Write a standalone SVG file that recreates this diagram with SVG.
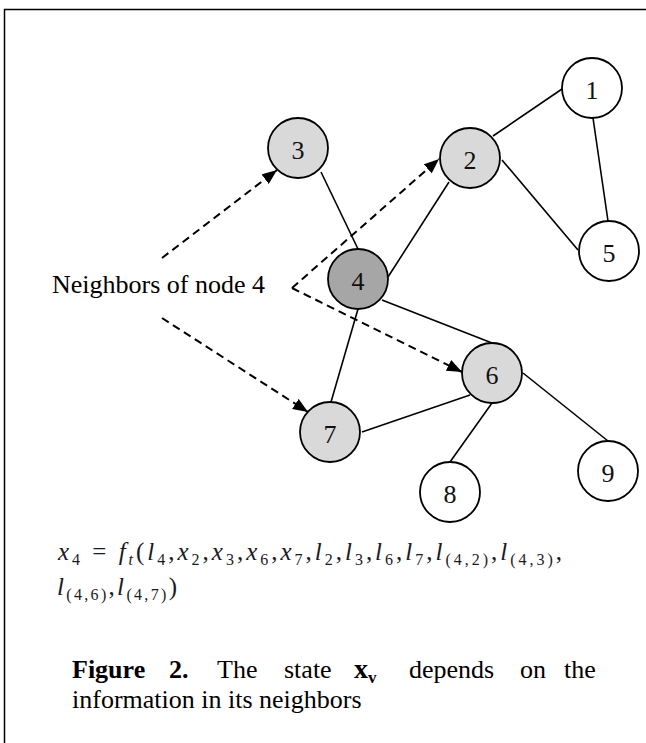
<svg xmlns="http://www.w3.org/2000/svg" width="646" height="743" viewBox="0 0 646 743">
  <style>
    .frame { fill: none; stroke: #000; stroke-width: 1.5; }
    .edge { stroke: #000; stroke-width: 1.6; fill: none; }
    .dash { stroke: #000; stroke-width: 2; fill: none; stroke-dasharray: 8 5; }
    .node { stroke: #000; stroke-width: 1.8; }
    .nb { fill: #d9d9d9; }
    .center { fill: #a6a6a6; }
    .plain { fill: #fff; }
    .lbl { font-family: "Liberation Serif", "Times New Roman", serif; font-size: 26px; fill: #111; text-anchor: middle; }
    .txt { font-family: "Liberation Serif", "Times New Roman", serif; font-size: 26px; fill: #000; }
    .math { font-family: "Liberation Serif", "Times New Roman", serif; font-size: 25px; fill: #1a1a24; }
    .it { font-style: italic; }
    .sub { font-size: 16px; font-style: normal; }
  </style>
  <defs>
    <marker id="arrow" markerUnits="userSpaceOnUse" markerWidth="15" markerHeight="12" refX="15" refY="6" orient="auto">
      <path d="M0,0 L15,6 L0,12 z" fill="#000"/>
    </marker>
  </defs>

  <rect class="frame" x="4.5" y="9.5" width="700" height="800"/>

  <g id="connectors">
    <line class="edge" x1="493" y1="136" x2="562" y2="89"/>
    <line class="edge" x1="593" y1="118" x2="608" y2="221"/>
    <line class="edge" x1="502" y1="160" x2="578" y2="250"/>
    <line class="edge" x1="321" y1="172" x2="358" y2="249"/>
    <line class="edge" x1="449" y1="182" x2="388" y2="277"/>
    <line class="edge" x1="382" y1="300" x2="492" y2="343"/>
    <line class="edge" x1="358" y1="309" x2="331" y2="402"/>
    <line class="edge" x1="362" y1="432" x2="470" y2="395"/>
    <line class="edge" x1="492" y1="403" x2="450" y2="462"/>
    <line class="edge" x1="523" y1="373" x2="608" y2="441"/>
    <path class="dash" d="M162,258 L277,170" marker-end="url(#arrow)"/>
    <path class="dash" d="M292,288 L439,159" marker-end="url(#arrow)"/>
    <path class="dash" d="M292,288 L462,372" marker-end="url(#arrow)"/>
    <path class="dash" d="M162,318 L308,412" marker-end="url(#arrow)"/>
  </g>

  <g id="node1"><circle class="node plain" cx="592" cy="88" r="30"/><text class="lbl" x="592" y="99">1</text></g>
  <g id="node2"><circle class="node nb" cx="470" cy="158" r="30"/><text class="lbl" x="470" y="169">2</text></g>
  <g id="node3"><circle class="node nb" cx="298" cy="148" r="30"/><text class="lbl" x="298" y="159">3</text></g>
  <g id="node4"><circle class="node center" cx="358" cy="279" r="30"/><text class="lbl" x="358" y="290">4</text></g>
  <g id="node5"><circle class="node plain" cx="609" cy="251" r="30"/><text class="lbl" x="609" y="262">5</text></g>
  <g id="node6"><circle class="node nb" cx="492" cy="373" r="30"/><text class="lbl" x="492" y="384">6</text></g>
  <g id="node7"><circle class="node nb" cx="330" cy="432" r="30"/><text class="lbl" x="330" y="443">7</text></g>
  <g id="node8"><circle class="node plain" cx="450" cy="492" r="30"/><text class="lbl" x="450" y="503">8</text></g>
  <g id="node9"><circle class="node plain" cx="608" cy="471" r="30"/><text class="lbl" x="608" y="482">9</text></g>

  <g id="label">
    <text class="txt" x="52" y="293">Neighbors of node 4</text>
  </g>

  <g id="formula">
    <text class="math" x="58" y="560" textLength="504" lengthAdjust="spacing"><tspan class="it">x</tspan><tspan class="sub" dy="5">4</tspan><tspan dy="-5"> = </tspan><tspan class="it">f</tspan><tspan class="it" font-size="16" dy="5">t</tspan><tspan dy="-5">(</tspan><tspan class="it">l</tspan><tspan class="sub" dy="5">4</tspan><tspan dy="-5">,</tspan><tspan class="it">x</tspan><tspan class="sub" dy="5">2</tspan><tspan dy="-5">,</tspan><tspan class="it">x</tspan><tspan class="sub" dy="5">3</tspan><tspan dy="-5">,</tspan><tspan class="it">x</tspan><tspan class="sub" dy="5">6</tspan><tspan dy="-5">,</tspan><tspan class="it">x</tspan><tspan class="sub" dy="5">7</tspan><tspan dy="-5">,</tspan><tspan class="it">l</tspan><tspan class="sub" dy="5">2</tspan><tspan dy="-5">,</tspan><tspan class="it">l</tspan><tspan class="sub" dy="5">3</tspan><tspan dy="-5">,</tspan><tspan class="it">l</tspan><tspan class="sub" dy="5">6</tspan><tspan dy="-5">,</tspan><tspan class="it">l</tspan><tspan class="sub" dy="5">7</tspan><tspan dy="-5">,</tspan><tspan class="it">l</tspan><tspan class="sub" dy="5">(4,2)</tspan><tspan dy="-5">,</tspan><tspan class="it">l</tspan><tspan class="sub" dy="5">(4,3)</tspan><tspan dy="-5">,</tspan></text>
    <text class="math" x="57" y="595" textLength="120" lengthAdjust="spacing"><tspan class="it">l</tspan><tspan class="sub" dy="5">(4,6)</tspan><tspan dy="-5">,</tspan><tspan class="it">l</tspan><tspan class="sub" dy="5">(4,7)</tspan><tspan dy="-5">)</tspan></text>
  </g>

  <g id="caption">
    <text class="txt" y="678"><tspan x="72" font-weight="bold">Figure</tspan><tspan x="169" font-weight="bold">2.</tspan><tspan x="217">The</tspan><tspan x="284">state</tspan><tspan x="354" font-weight="bold" font-size="28">x</tspan><tspan font-weight="bold" font-size="17" dy="5">v</tspan><tspan x="409" dy="-5">depends</tspan><tspan x="520">on</tspan><tspan x="564">the</tspan></text>
    <text class="txt" x="72" y="708">information in its neighbors</text>
  </g>
</svg>
